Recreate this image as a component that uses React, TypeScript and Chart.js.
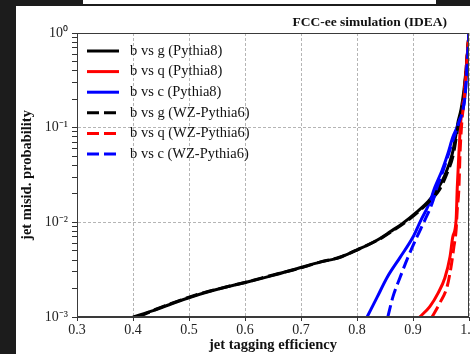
import React, { useEffect, useRef } from 'react';
import { Chart, registerables } from 'chart.js';

Chart.register(...registerables);

const FONT = '"Liberation Serif", "Times New Roman", Times, serif';

// ---- data ----
const seriesLabels = [
  'b vs g (Pythia8)',
  'b vs q (Pythia8)',
  'b vs c (Pythia8)',
  'b vs g (WZ-Pythia6)',
  'b vs q (WZ-Pythia6)',
  'b vs c (WZ-Pythia6)',
];
const seriesColors = ['#000000', '#ff0000', '#0000ff', '#000000', '#ff0000', '#0000ff'];
const seriesDashed = [false, false, false, true, true, true];

const gP8Eff = [0.40, 0.436, 0.479, 0.525, 0.568, 0.604, 0.65, 0.698, 0.734, 0.77, 0.80, 0.823, 0.841, 0.859, 0.882, 0.907, 0.927, 0.943, 0.957, 0.970, 0.977, 0.980, 0.986, 0.991, 0.996, 1.0];
const gP8Mis = [1.0e-3, 1.17e-3, 1.45e-3, 1.78e-3, 2.09e-3, 2.34e-3, 2.75e-3, 3.31e-3, 3.8e-3, 4.27e-3, 5.13e-3, 5.9e-3, 6.76e-3, 7.94e-3, 9.8e-3, 1.29e-2, 1.66e-2, 2.19e-2, 3.16e-2, 5.25e-2, 8.6e-2, 0.112, 0.158, 0.251, 0.5, 1.0];

const qP8Eff = [0.912, 0.930, 0.945, 0.957, 0.966, 0.971, 0.977, 0.979, 0.982, 0.985, 0.991, 0.996, 1.0];
const qP8Mis = [1.0e-3, 1.29e-3, 1.8e-3, 2.6e-3, 4.3e-3, 7.0e-3, 1.06e-2, 2.3e-2, 5.4e-2, 0.11, 0.22, 0.5, 1.0];

const cP8Eff = [0.818, 0.836, 0.854, 0.877, 0.900, 0.914, 0.929, 0.939, 0.952, 0.9625, 0.971, 0.981, 0.993, 0.997, 1.0];
const cP8Mis = [1.0e-3, 1.62e-3, 2.63e-3, 4.27e-3, 7.0e-3, 1.05e-2, 1.58e-2, 2.34e-2, 3.55e-2, 5.37e-2, 7.9e-2, 0.11, 0.22, 0.5, 1.0];

const gWZEff = [0.41, 0.44, 0.48, 0.525, 0.57, 0.605, 0.65, 0.70, 0.735, 0.77, 0.80, 0.825, 0.845, 0.862, 0.885, 0.91, 0.93, 0.947, 0.96, 0.972, 0.978, 0.981, 0.987, 0.992, 0.996, 1.0];
const gWZMis = [1.0e-3, 1.2e-3, 1.47e-3, 1.8e-3, 2.1e-3, 2.36e-3, 2.78e-3, 3.3e-3, 3.82e-3, 4.3e-3, 5.1e-3, 6.0e-3, 6.9e-3, 8.0e-3, 9.9e-3, 1.3e-2, 1.68e-2, 2.2e-2, 3.2e-2, 5.2e-2, 8.4e-2, 0.11, 0.156, 0.25, 0.5, 1.0];

const qWZEff = [0.934, 0.948, 0.961, 0.968, 0.973, 0.977, 0.979, 0.982, 0.984, 0.987, 0.992, 0.996, 1.0];
const qWZMis = [1.0e-3, 1.41e-3, 2.1e-3, 3.4e-3, 5.5e-3, 8.3e-3, 1.35e-2, 2.3e-2, 5.4e-2, 0.11, 0.22, 0.5, 1.0];

const cWZEff = [0.855, 0.864, 0.877, 0.891, 0.907, 0.921, 0.934, 0.943, 0.954, 0.964, 0.973, 0.981, 0.993, 0.997, 1.0];
const cWZMis = [1.0e-3, 1.62e-3, 2.63e-3, 4.27e-3, 7.0e-3, 1.05e-2, 1.58e-2, 2.34e-2, 3.55e-2, 5.37e-2, 7.9e-2, 0.11, 0.22, 0.5, 1.0];

const seriesEff = [gP8Eff, qP8Eff, cP8Eff, gWZEff, qWZEff, cWZEff];
const seriesMis = [gP8Mis, qP8Mis, cP8Mis, gWZMis, qWZMis, cWZMis];

const xTicks = [0.3, 0.4, 0.5, 0.6, 0.7, 0.8, 0.9, 1.0];
const xTickLabels = ['0.3', '0.4', '0.5', '0.6', '0.7', '0.8', '0.9', '1.0'];
const yMajorTicks = [1e-3, 1e-2, 1e-1, 1];
const yTickLabels = ['10⁻³', '10⁻²', '10⁻¹', '10⁰'];
const yMinorFactors = [2, 3, 4, 5, 6, 7, 8, 9];

const titleText = 'FCC-ee simulation (IDEA)';
const xTitle = 'jet tagging efficiency';
const yTitle = 'jet misid. probability';

const isMajorY = (v: number) => yMajorTicks.some((m) => Math.abs(v - m) / m < 1e-6);

const overlayPlugin = {
  id: 'overlay',
  afterDraw(chart: any) {
    const { ctx, chartArea } = chart;
    ctx.save();
    // frame (all four spines)
    ctx.strokeStyle = '#3a3a3a';
    ctx.lineWidth = 1;
    ctx.setLineDash([]);
    ctx.strokeRect(chartArea.left + 0.5, chartArea.top + 0.5, chartArea.right - chartArea.left - 1, chartArea.bottom - chartArea.top - 1);

    // title
    ctx.fillStyle = '#111';
    ctx.font = `bold 13.5px ${FONT}`;
    ctx.textAlign = 'right';
    ctx.textBaseline = 'middle';
    ctx.fillText(titleText, 447, 23);

    // legend
    ctx.font = `14.5px ${FONT}`;
    ctx.textAlign = 'left';
    chart.data.datasets.forEach((ds: any, i: number) => {
      const y = 51 + i * 20.6;
      ctx.beginPath();
      ctx.strokeStyle = ds.borderColor;
      ctx.lineWidth = 3;
      ctx.setLineDash(ds.borderDash || []);
      ctx.moveTo(87, y);
      ctx.lineTo(119, y);
      ctx.stroke();
      ctx.setLineDash([]);
      ctx.fillStyle = '#111';
      ctx.fillText(ds.label, 130, y);
    });
    ctx.restore();
  },
};

export default function App() {
  const canvasRef = useRef<HTMLCanvasElement | null>(null);

  useEffect(() => {
    const canvas = canvasRef.current;
    if (!canvas) return;

    const datasets = seriesLabels.map((label, i) => ({
      label,
      data: seriesEff[i].map((x, j) => ({ x, y: seriesMis[i][j] })),
      borderColor: seriesColors[i],
      backgroundColor: seriesColors[i],
      borderWidth: 3,
      borderDash: seriesDashed[i] ? [12, 5] : [],
      borderJoinStyle: 'round',
      pointRadius: 0,
      fill: false,
      cubicInterpolationMode: 'monotone',
      clip: 0,
      order: seriesLabels.length - i,
    }));

    const yTickValues: number[] = [];
    for (let d = 0; d < yMajorTicks.length - 1; d++) {
      yTickValues.push(yMajorTicks[d]);
      yMinorFactors.forEach((f) => yTickValues.push(f * yMajorTicks[d]));
    }
    yTickValues.push(yMajorTicks[yMajorTicks.length - 1]);

    const chart = new Chart(canvas, {
      type: 'line',
      data: { datasets: datasets as any },
      options: {
        responsive: false,
        maintainAspectRatio: false,
        animation: false,
        events: [],
        layout: { padding: { top: 33, left: 0, right: 1, bottom: 0 } },
        plugins: {
          legend: { display: false },
          tooltip: { enabled: false },
          title: { display: false },
        },
        scales: {
          x: {
            type: 'linear',
            min: 0.3,
            max: 1.0,
            afterBuildTicks: (scale: any) => {
              scale.ticks = xTicks.map((v) => ({ value: v }));
            },
            afterFit: (scale: any) => {
              scale.height = 37;
              scale.paddingLeft = 0;
              scale.paddingRight = 0;
            },
            ticks: {
              autoSkip: false,
              maxRotation: 0,
              padding: 1,
              color: '#222',
              font: { family: FONT, size: 14 },
              callback: (v: any) => {
                const i = xTicks.findIndex((t) => Math.abs(t - Number(v)) < 1e-6);
                return i >= 0 ? xTickLabels[i] : '';
              },
            },
            grid: {
              color: '#b5b5b5',
              lineWidth: 1,
              tickColor: '#333',
              tickLength: 4,
            },
            border: { color: '#3a3a3a', width: 1, dash: [3, 2] },
            title: {
              display: true,
              text: xTitle,
              color: '#111',
              font: { family: FONT, size: 14.5, weight: 'bold' },
              padding: { top: 0, bottom: 0 },
            },
          },
          y: {
            type: 'logarithmic',
            min: 1e-3,
            max: 1,
            afterBuildTicks: (scale: any) => {
              scale.ticks = yTickValues.map((v) => ({ value: v, major: isMajorY(v) }));
            },
            afterFit: (scale: any) => {
              scale.width = 77;
              scale.paddingTop = 0;
              scale.paddingBottom = 0;
            },
            ticks: {
              autoSkip: false,
              padding: 4,
              color: '#222',
              font: { family: FONT, size: 14 },
              callback: (v: any) => {
                const i = yMajorTicks.findIndex((m) => Math.abs(Number(v) - m) / m < 1e-6);
                return i >= 0 ? yTickLabels[i] : '';
              },
            },
            grid: {
              color: (c: any) => (c.tick && isMajorY(c.tick.value) ? '#b5b5b5' : 'rgba(0,0,0,0)'),
              lineWidth: 1,
              tickColor: '#333',
              tickLength: 5,
            },
            border: { color: '#3a3a3a', width: 1, dash: [3, 2] },
            title: {
              display: true,
              text: yTitle,
              color: '#111',
              font: { family: FONT, size: 14.5, weight: 'bold' },
              padding: { top: 19, bottom: 0 },
            },
          },
        },
      } as any,
      plugins: [overlayPlugin],
    });

    return () => {
      chart.destroy();
    };
  }, []);

  return (
    <div
      style={{
        position: 'fixed',
        left: 0,
        top: 0,
        width: 470,
        height: 354,
        background: '#1c1c1c',
        overflow: 'hidden',
      }}
    >
      <div style={{ position: 'absolute', left: 83, top: 0, width: 353, height: 4, background: '#ffffff' }} />
      <div style={{ position: 'absolute', left: 16, top: 6, width: 454, height: 348, background: '#ffffff' }} />
      <canvas
        ref={canvasRef}
        width={470}
        height={354}
        style={{ position: 'absolute', left: 0, top: 0, width: 470, height: 354 }}
      />
    </div>
  );
}
